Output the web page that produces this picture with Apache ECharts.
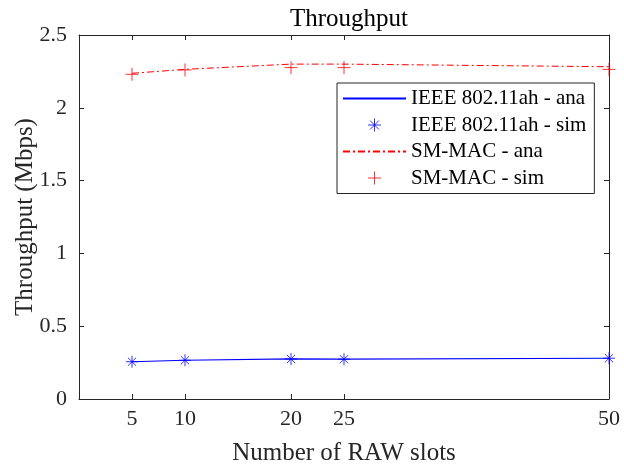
<!DOCTYPE html>
<html>
<head>
<meta charset="utf-8">
<script src="https://cdn.jsdelivr.net/npm/echarts@6/dist/echarts.min.js"></script>
<style>html,body{margin:0;padding:0;background:#fff}#c{width:624px;height:468px}</style>
</head>
<body>
<div id="c"></div>
<script>
const xSlots = [5, 10, 20, 25, 50];
const xTicks = [5, 10, 20, 25, 50];
const ieeeAna = [0.256, 0.266, 0.275, 0.274, 0.280];
const ieeeSim = [0.256, 0.266, 0.275, 0.273, 0.280];
const smAna = [2.237, 2.264, 2.300, 2.300, 2.282];
const smSim = [2.230, 2.260, 2.276, 2.276, 2.264];
const seriesNames = ['IEEE 802.11ah - ana', 'IEEE 802.11ah - sim', 'SM-MAC - ana', 'SM-MAC - sim'];

const FONT = "'Liberation Serif', 'Times New Roman', serif";
const AX = '#262626';
const pair = (xs, ys) => xs.map((x, i) => [x, ys[i]]);
const PLUS = 'path://M0,5L10,5M5,0L5,10';
const STAR = 'path://M5,0L5,10M0,5L10,5M1.6,1.6L8.4,8.4M1.6,8.4L8.4,1.6';

const chart = echarts.init(document.getElementById('c'), null, {renderer: 'canvas'});
const baseX = {
  type: 'value', min: 0, max: 50,
  splitLine: {show: false},
  axisLine: {show: true, onZero: false, lineStyle: {color: AX, width: 1}},
  axisTick: {show: true, inside: true, length: 5, customValues: xTicks, lineStyle: {color: AX}},
  axisLabel: {show: true, customValues: xTicks, color: AX, fontFamily: FONT, fontSize: 22, margin: 9}
};
const baseY = {
  type: 'value', min: 0, max: 2.5, interval: 0.5,
  splitLine: {show: false},
  axisLine: {show: true, onZero: false, lineStyle: {color: AX, width: 1}},
  axisTick: {show: true, inside: true, length: 5, lineStyle: {color: AX}},
  axisLabel: {show: true, color: AX, fontFamily: FONT, fontSize: 22, margin: 12}
};
chart.setOption({
  animation: false,
  backgroundColor: '#fff',
  title: {
    text: 'Throughput', left: 344, top: 2, textAlign: 'center',
    textStyle: {fontFamily: FONT, fontSize: 25, fontWeight: 'normal', color: '#000'}
  },
  grid: {left: 79, right: 15, top: 35, bottom: 69, outerBoundsMode: 'none', containLabel: false},
  xAxis: [
    Object.assign({}, baseX, {
      position: 'bottom',
      name: 'Number of RAW slots', nameLocation: 'middle', nameGap: 42, nameMoveOverlap: false,
      nameTextStyle: {fontFamily: FONT, fontSize: 25, color: AX}
    }),
    Object.assign({}, baseX, {position: 'top', axisLabel: {show: false}})
  ],
  yAxis: [
    Object.assign({}, baseY, {
      position: 'left',
      name: 'Throughput (Mbps)', nameLocation: 'middle', nameGap: 41, nameMoveOverlap: false,
      nameTextStyle: {fontFamily: FONT, fontSize: 25, color: AX}
    }),
    Object.assign({}, baseY, {position: 'right', axisLabel: {show: false}})
  ],
  legend: {
    orient: 'vertical', left: 337, top: 83,
    padding: [5, 8, 5, 5],
    itemWidth: 63, itemHeight: 13, itemGap: 5.5,
    backgroundColor: '#fff', borderColor: AX, borderWidth: 1,
    textStyle: {fontFamily: FONT, fontSize: 21, color: '#000', lineHeight: 21},
    data: [
      {name: seriesNames[0], itemStyle: {opacity: 0}},
      {name: seriesNames[1], itemStyle: {borderWidth: 1}},
      {name: seriesNames[2], itemStyle: {opacity: 0}},
      {name: seriesNames[3], itemStyle: {borderWidth: 1}}
    ]
  },
  series: [
    {
      name: seriesNames[0], type: 'line', data: pair(xSlots, ieeeAna),
      symbol: 'none', lineStyle: {color: '#0000ff', width: 1.2}, itemStyle: {color: '#0000ff'}, z: 2
    },
    {
      name: seriesNames[1], type: 'scatter', data: pair(xSlots, ieeeSim),
      symbol: STAR, symbolSize: 12,
      itemStyle: {color: '#0000ff', borderColor: '#0000ff', borderWidth: 1}, z: 3
    },
    {
      name: seriesNames[2], type: 'line', data: pair(xSlots, smAna),
      symbol: 'none', lineStyle: {color: '#ff0000', width: 1, type: [7, 3, 2, 3]}, itemStyle: {color: '#ff0000'}, z: 2
    },
    {
      name: seriesNames[3], type: 'scatter', data: pair(xSlots, smSim),
      symbol: PLUS, symbolSize: 13,
      itemStyle: {color: '#ff0000', borderColor: '#ff0000', borderWidth: 1}, z: 3
    }
  ]
});
</script>
</body>
</html>
